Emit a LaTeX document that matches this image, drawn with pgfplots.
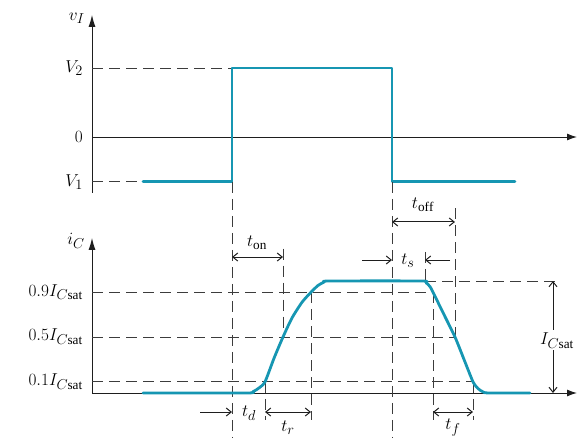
\documentclass[border=0pt]{standalone}
\usepackage{fontspec}
\setmainfont{Liberation Serif}
\usepackage{pgfplots}
\pgfplotsset{compat=1.18}
\usetikzlibrary{arrows.meta}

\definecolor{wave}{RGB}{22,150,178}
\definecolor{guide}{RGB}{60,60,60}
\definecolor{axisc}{RGB}{30,30,30}

\tikzset{
  guide/.style={draw=guide, line width=1bp, dash pattern=on 11bp off 6bp},
  dim/.style={draw=axisc, line width=1bp,
    {Straight Barb[length=5bp,width=8bp]}-{Straight Barb[length=5bp,width=8bp]}},
  dimr/.style={draw=axisc, line width=1bp, -{Straight Barb[length=5bp,width=8bp]}},
  lbl/.style={font=\fontsize{19}{22}\selectfont, inner sep=1bp},
}

\pgfplotsset{
  timing/.style={
    x=1bp, xmin=0, xmax=485,
    axis lines=middle,
    axis line style={draw=axisc, line width=1bp},
    every inner x axis line/.append style={-{Latex[length=10bp,width=7bp]}},
    every inner y axis line/.append style={-{Latex[length=12bp,width=7bp]}},
    xtick=\empty,
    major tick length=0pt,
    hide obscured y ticks=false,
    yticklabel style={font=\fontsize{19}{22}\selectfont, anchor=east, inner sep=0pt, xshift=-9bp},
    clip=false,
    anchor=origin,
  },
  wavestyle/.style={draw=wave, line width=2.8bp, line join=round, line cap=round, mark=none},
}

\begin{document}
\begin{tikzpicture}
% input voltage v_I
\begin{axis}[timing, at={(92bp,-137bp)}, y=69bp, ymin=-0.81, ymax=1.77,
  ytick={-0.65,0,1}, yticklabels={$V_1$,$0$,$V_2$}]
  \addplot[guide] coordinates {(0,1) (140,1)};
  \addplot[guide] coordinates {(0,-0.65) (51,-0.65)};
  \addplot[wavestyle] coordinates {(51,-0.65) (140,-0.65) (140,1) (300,1) (300,-0.65) (423,-0.65)};
  \node[lbl, anchor=east] at (axis cs:-6,1.72) {$v_I$};
\end{axis}

% collector current i_C
\begin{axis}[timing, at={(92bp,-393bp)}, y=112bp, ymin=0, ymax=1.385,
  ytick={0.1,0.5,0.9},
  yticklabels={$0.1I_{C\mathrm{sat}}$,$0.5I_{C\mathrm{sat}}$,$0.9I_{C\mathrm{sat}}$}]
  % level guides
  \addplot[guide] coordinates {(0,0.9) (341,0.9)};
  \addplot[guide] coordinates {(0,0.5) (363,0.5)};
  \addplot[guide] coordinates {(0,0.1) (381,0.1)};
  \addplot[guide] coordinates {(333,1) (468,1)};
  % switching instants
  \addplot[guide] coordinates {(140,1.884) (140,-0.402)};
  \addplot[guide] coordinates {(300,1.884) (300,-0.402)};
  \addplot[guide] coordinates {(191,1.29) (191,0.5)};
  \addplot[guide] coordinates {(363,1.65) (363,0.5)};
  \addplot[guide] coordinates {(333,1.26) (333,1)};
  \addplot[guide] coordinates {(173,0.1) (173,-0.24)};
  \addplot[guide] coordinates {(219,0.9) (219,-0.24)};
  \addplot[guide] coordinates {(341,0.9) (341,-0.24)};
  \addplot[guide] coordinates {(381,0.1) (381,-0.24)};
  % current waveform
  \addplot[wavestyle, smooth, tension=0.4] coordinates {
    (51,0) (154,0) (161,0.012) (167,0.045) (173,0.1) (182,0.31) (191,0.5)
    (200,0.67) (210,0.81) (219,0.9) (226,0.96) (232,0.99) (238,1) (329,1)
    (334,0.985) (338,0.95) (341,0.9) (352,0.7) (363,0.5) (372,0.3)
    (381,0.1) (386,0.04) (391,0.01) (397,0) (438,0)};
  % time intervals
  \draw[dim] (axis cs:140,1.214) -- (axis cs:191,1.214);
  \node[lbl] at (axis cs:165,1.34) {$t_{\mathrm{on}}$};
  \draw[dim] (axis cs:300,1.527) -- (axis cs:363,1.527);
  \node[lbl] at (axis cs:331,1.68) {$t_{\mathrm{off}}$};
  \draw[dimr] (axis cs:270,1.1875) -- (axis cs:300,1.1875);
  \draw[dimr] (axis cs:358,1.1875) -- (axis cs:333,1.1875);
  \node[lbl] at (axis cs:316,1.18) {$t_s$};
  \draw[dimr] (axis cs:108,-0.17) -- (axis cs:140,-0.17);
  \node[lbl] at (axis cs:157,-0.18) {$t_d$};
  \draw[dim] (axis cs:173,-0.17) -- (axis cs:219,-0.17);
  \node[lbl] at (axis cs:196,-0.31) {$t_r$};
  \draw[dim] (axis cs:341,-0.17) -- (axis cs:381,-0.17);
  \node[lbl] at (axis cs:361,-0.31) {$t_f$};
  \draw[dim] (axis cs:461,0) -- (axis cs:461,1);
  \node[lbl, fill=white, inner sep=2bp] at (axis cs:465,0.47) {$I_{C\mathrm{sat}}$};
  \node[lbl, anchor=east] at (axis cs:-6,1.36) {$i_C$};
\end{axis}
\pgfresetboundingbox
\useasboundingbox (0,0) rectangle (577bp,-438bp);
\end{tikzpicture}
\end{document}
